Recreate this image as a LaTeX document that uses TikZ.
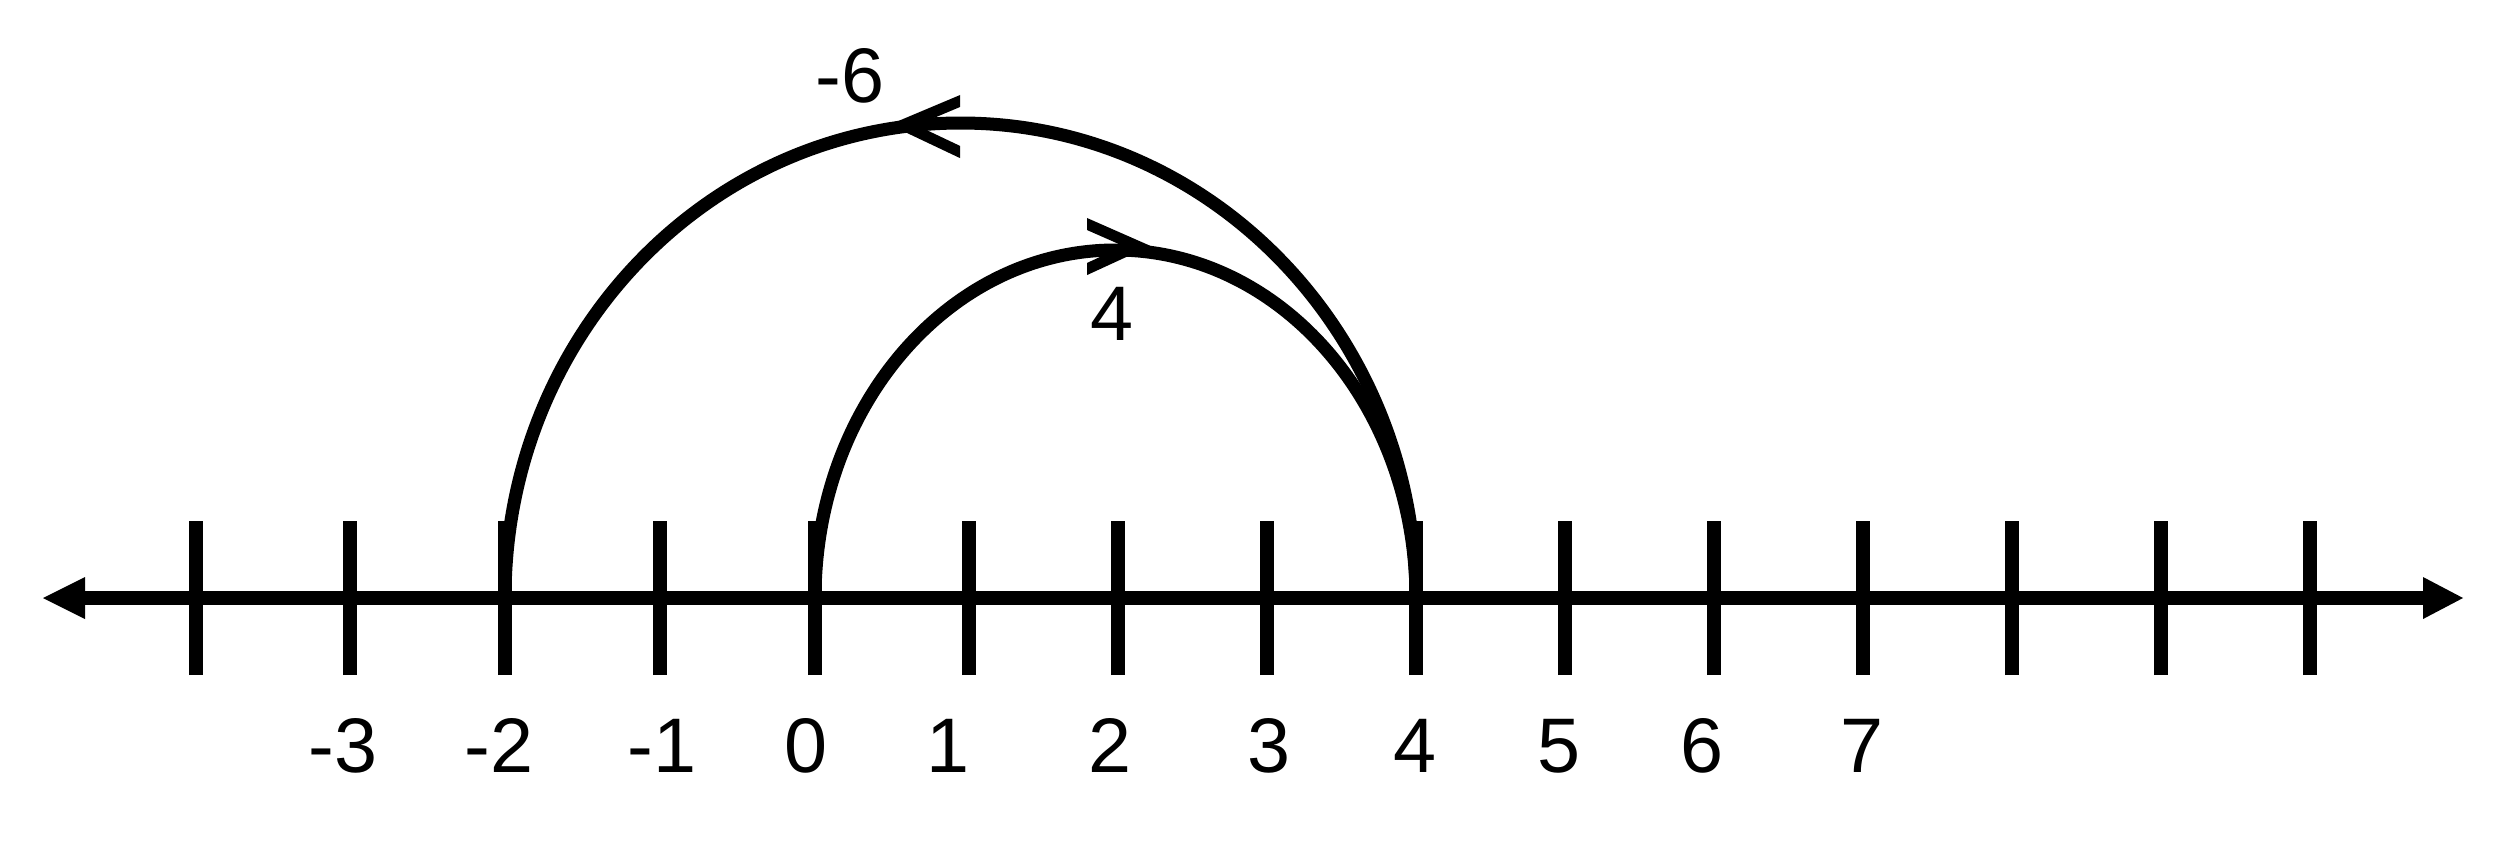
\documentclass[tikz,border=0pt]{standalone}
\usepackage{fontspec}
\setmainfont{Liberation Sans}
\usetikzlibrary{calc}
\begin{document}
\begin{tikzpicture}[x=0.01cm,y=0.01cm,
  axisline/.style={line width=0.14cm},
  tickline/.style={line width=0.135cm},
  arcline/.style={line width=0.13cm},
  chev/.style={line width=0.11cm,line cap=butt,line join=miter},
  head/.style={fill=black},
  lbl/.style={anchor=base,inner sep=0pt,font=\fontsize{22}{26}\selectfont}]
\useasboundingbox (0,0) rectangle (2507,844);
% axis ends
\coordinate (ltip) at (43,246);
\coordinate (lback) at (85,246);
\coordinate (rtip) at (2463,246);
\coordinate (rback) at (2423,246);
\draw[axisline] (lback) -- (rback);
\fill[head] (ltip) -- ($(lback)+(0,21)$) -- ($(lback)+(0,-21)$) -- cycle;
\fill[head] (rtip) -- ($(rback)+(0,21)$) -- ($(rback)+(0,-21)$) -- cycle;
% ticks
\foreach \n/\x in {a/196,b/350,c/505,d/660,e/815,f/969,g/1118,h/1267,i/1416,j/1565,k/1714,l/1863,m/2012,n/2161,o/2310}{
  \coordinate (t\n) at (\x,246);
  \draw[tickline] ($(t\n)+(0,-77)$) -- ($(t\n)+(0,77)$);
}
% jumps
\draw[arcline] (tc) arc[start angle=180,end angle=0,x radius=455.5,y radius=475];
\draw[arcline] (te) arc[start angle=180,end angle=0,x radius=300.5,y radius=348];
\begin{scope}
  \clip (0,0) rectangle (960,844);
  \draw[chev] (975,749.3) -- (903,719) -- (975,684.9);
\end{scope}
\begin{scope}
  \clip (1087,0) rectangle (2507,844);
  \draw[chev] (1072,626.6) -- (1137,598) -- (1072,568.1);
\end{scope}
% labels
\node[lbl] (lm3) at (343,72) {-3};
\node[lbl] (lm2) at (499,72) {-2};
\node[lbl] (lm1) at (662,72) {-1};
\node[lbl] (l0) at (806,72) {0};
\node[lbl] (l1) at (948,72) {1};
\node[lbl] (l2) at (1110,72) {2};
\node[lbl] (l3) at (1269,72) {3};
\node[lbl] (l4) at (1415,72) {4};
\node[lbl] (l5) at (1559,72) {5};
\node[lbl] (l6) at (1702,72) {6};
\node[lbl] (l7) at (1862,72) {7};
\node[lbl] (jm6) at (850,742) {-6};
\node[lbl] (j4) at (1112,504) {4};
\end{tikzpicture}
\end{document}
